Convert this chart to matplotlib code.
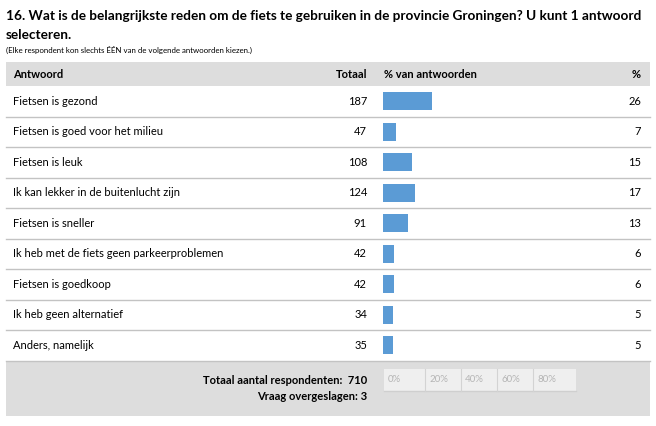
import numpy as np
import matplotlib
matplotlib.use("Agg")
import matplotlib.pyplot as plt
from matplotlib.patches import Rectangle

plt.rcParams["font.family"] = ["Lato", "DejaVu Sans"]

title_lines = ["16. Wat is de belangrijkste reden om de fiets te gebruiken in de provincie Groningen? U kunt 1 antwoord",
               "selecteren."]
subtitle = "(Elke respondent kon slechts ÉÉN van de volgende antwoorden kiezen.)"
headers = ["Antwoord", "Totaal", "% van antwoorden", "%"]
answers = ["Fietsen is gezond", "Fietsen is goed voor het milieu", "Fietsen is leuk",
           "Ik kan lekker in de buitenlucht zijn", "Fietsen is sneller",
           "Ik heb met de fiets geen parkeerproblemen", "Fietsen is goedkoop",
           "Ik heb geen alternatief", "Anders, namelijk"]
totals = [187, 47, 108, 124, 91, 42, 42, 34, 35]
percents = [26, 7, 15, 17, 13, 6, 6, 5, 5]
total_respondents = 710
skipped = 3
axis_labels = ["0%", "20%", "40%", "60%", "80%"]

W, H = 656, 426
fig = plt.figure(figsize=(W / 100, H / 100), dpi=100)
ax = fig.add_axes([0, 0, 1, 1])
ax.set_xlim(0, W)
ax.set_ylim(H, 0)
ax.axis("off")

blue = "#5b9bd5"
hdr_gray = "#dddddd"
line_gray = "#c3c3c3"

# title - shrink first line so it spans the same width as the reference
t1 = ax.text(6, 16, title_lines[0], fontsize=10, fontweight="bold", va="center", ha="left")
renderer = fig.canvas.get_renderer()
w = t1.get_window_extent(renderer).width
fs = 10 * 637 / w
t1.set_fontsize(fs)
ax.text(6, 35, title_lines[1], fontsize=fs, fontweight="bold", va="center", ha="left")
ax.text(6, 50, subtitle, fontsize=5.7, va="center", ha="left")

# header row
left, right = 6, 650
ax.add_patch(Rectangle((left, 62), right - left, 24, color=hdr_gray, lw=0))
ax.text(13, 74, headers[0], fontsize=8, fontweight="bold", va="center")
ax.text(367, 74, headers[1], fontsize=8, fontweight="bold", va="center", ha="right")
ax.text(384, 74, headers[2], fontsize=8, fontweight="bold", va="center")
ax.text(641, 74, headers[3], fontsize=8, fontweight="bold", va="center", ha="right")

# rows
top, bottom = 86, 360.5
n = len(answers)
rh = (bottom - top) / n
for i in range(n):
    yc = top + rh * (i + 0.5)
    ax.text(13, yc, answers[i], fontsize=8, va="center")
    ax.text(367, yc, str(totals[i]), fontsize=8, va="center", ha="right")
    ax.text(641, yc, str(percents[i]), fontsize=8, va="center", ha="right")
    ax.plot([left, right], [top + rh * (i + 1)] * 2, color=line_gray, lw=1)

# bars
bx0, bw = 383, 190
bar_ax = fig.add_axes([bx0 / W, 1 - bottom / H, bw / W, (bottom - top) / H])
bar_ax.barh(np.arange(n), percents, height=0.58, color=blue)
bar_ax.set_xlim(0, 100)
bar_ax.set_ylim(n - 0.5, -0.5)
bar_ax.axis("off")

# footer
ax.add_patch(Rectangle((left, 361), right - left, 55, color=hdr_gray, lw=0))
ax.text(367, 380, "Totaal aantal respondenten:  %d" % total_respondents, fontsize=8,
        fontweight="bold", va="center", ha="right")
ax.text(367, 397, "Vraag overgeslagen: %d" % skipped, fontsize=8,
        fontweight="bold", va="center", ha="right")
edges = [384, 425, 461, 497, 533, 576]
ax.add_patch(Rectangle((edges[0], 369), edges[-1] - edges[0], 22, color="#efefef", lw=0))
ax.plot([edges[0], edges[-1]], [391, 391], color="#cfcfcf", lw=1)
for k, lab in enumerate(axis_labels):
    if k > 0:
        ax.plot([edges[k], edges[k]], [369, 391], color="#d3d3d3", lw=0.8)
    ax.text(edges[k] + 4, 380, lab, fontsize=7, color="#b5b5b5", va="center")

fig.savefig("out.png", dpi=100)
